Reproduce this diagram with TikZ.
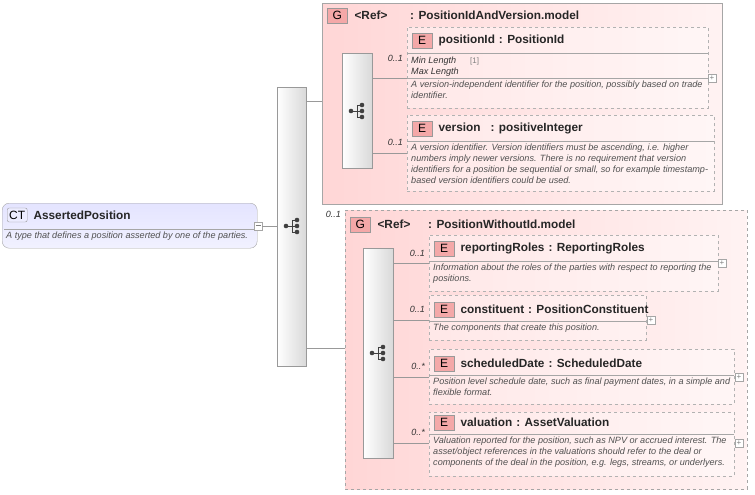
\documentclass[tikz,border=0pt]{standalone}
\usepackage{fontspec}
\setmainfont{Liberation Sans}
\usetikzlibrary{positioning,calc}
\definecolor{grpfill}{HTML}{FFD6D6}
\definecolor{ctfill}{HTML}{E4E4FF}
\definecolor{efill}{HTML}{F4A8A8}
\definecolor{txtgray}{HTML}{505050}
\tikzset{
  grp/.style={draw=gray!70, left color=grpfill, right color=grpfill!30, anchor=north west, inner sep=0pt},
  elem/.style={draw=gray!60, dashed, fill=white, fill opacity=0.35, text opacity=1, anchor=north west, inner sep=0pt},
  seqbar/.style={draw=gray!80, left color=white, right color=gray!30, anchor=north west, inner sep=0pt},
  tag/.style={draw=gray!80, fill=efill, minimum width=20pt, minimum height=15pt, inner sep=0pt, font=\fontsize{12}{12}\selectfont},
  title/.style={anchor=west, inner sep=0pt, font=\bfseries\fontsize{11.8}{14}\selectfont, text=black!85},
  desc/.style={anchor=north west, inner sep=0pt, align=left, text=txtgray, font=\itshape\fontsize{9.1}{10.8}\selectfont},
  card/.style={inner sep=0pt, text=black!80, font=\itshape\fontsize{9}{10}\selectfont},
  plusbox/.style={draw=gray!70, fill=white, minimum size=8pt, inner sep=0pt, font=\fontsize{8}{8}\selectfont, text=gray},
  conn/.style={draw=gray!80, line width=0.5pt}
}
\newcommand{\seqicon}[1]{%
  \draw[black!75, line width=0.8pt] ($(#1)+(-6,0)$) -- ($(#1)+(0,0)$)
    ($(#1)+(0,-6)$) -- ($(#1)+(0,6)$) ($(#1)+(0,-6)$) -- ($(#1)+(4,-6)$)
    ($(#1)+(0,6)$) -- ($(#1)+(4,6)$) ($(#1)+(0,0)$) -- ($(#1)+(4,0)$);
  \fill[black!75] ($(#1)+(-6,0)$) circle[radius=2.3pt] ($(#1)+(5,-6)$) circle[radius=2.3pt]
    ($(#1)+(5,0)$) circle[radius=2.3pt] ($(#1)+(5,6)$) circle[radius=2.3pt];}
\begin{document}
\begin{tikzpicture}[x=1pt, y=-1pt]
\useasboundingbox (0,0) rectangle (755,495);

% complex type
\node[draw=gray!70, rounded corners=7pt, top color=ctfill, bottom color=ctfill!50, minimum width=255pt, minimum height=45pt, anchor=north west, inner sep=0pt] (ct) at (2,203) {};
\node[draw=gray!80, fill=ctfill!70, rounded corners=2pt, minimum width=20pt, minimum height=14pt, inner sep=0pt, font=\fontsize{12}{12}\selectfont, anchor=west] (cttag) at (7,215) {CT};
\node[title, right=6pt of cttag] (ctname) {AssertedPosition};
\draw[gray!70] (4,229) -- (254,229);
\node[desc] (ctdesc) at (6,232) {A type that defines a position asserted by one of the parties.};
\node[plusbox] (ctmin) at (258,226) {\rule[2.5pt]{5pt}{0.4pt}};

% main sequence
\node[seqbar, minimum width=29pt, minimum height=279pt] (seq) at (277,87) {};
\coordinate (seqc) at (292,226);
\seqicon{seqc}
\draw[conn] (ctmin.east) -- (seq.west |- ctmin.east);

% first group
\node[grp, minimum width=400pt, minimum height=201pt] (g1) at (322,3) {};
\node[tag, anchor=north west] (g1tag) at (327,8) {G};
\node[title, right=7pt of g1tag] (g1ref) {<Ref>};
\node[title] (g1name) at (410,15) {: PositionIdAndVersion.model};
\node[seqbar, minimum width=30pt, minimum height=115pt] (seqa) at (342,53) {};
\coordinate (seqac) at (357,111);
\seqicon{seqac}
\draw[conn] (seq.east |- 0,101) -- (g1.west |- 0,101);

\node[elem, minimum width=301pt, minimum height=81pt] (pid) at (407,27) {};
\node[tag, anchor=north west] (pidtag) at (412,33) {E};
\node[title, right=6pt of pidtag] (pidname) {positionId\hspace{4pt}: PositionId};
\draw[gray!70] (407,53) -- (708,53) (407,78) -- (708,78);
\node[desc, text=black!80] (pidmin) at (411,57) {Min Length\\Max Length};
\node[desc, font=\fontsize{8}{10.8}\selectfont, text=gray] (pidval) at (470,57) {[1]\\[255]};
\node[desc] (piddesc) at (411,81) {A version-independent identifier for the position, possibly based on trade\\identifier.};
\node[plusbox] (pidplus) at (712,78) {+};
\node[card, anchor=south east] (c1) at (403,62) {0..1};
\draw[conn] (seqa.east |- pidplus) -- (pid.west |- pidplus);

\node[elem, minimum width=307pt, minimum height=76pt] (ver) at (407,115) {};
\node[tag, anchor=north west] (vertag) at (412,121) {E};
\node[title, right=6pt of vertag] (vername) {version\hspace{10pt}: positiveInteger};
\draw[gray!70] (407,141) -- (714,141);
\node[desc] (verdesc) at (411,144) {A version identifier. Version identifiers must be ascending, i.e. higher\\numbers imply newer versions. There is no requirement that version\\identifiers for a position be sequential or small, so for example timestamp-\\based version identifiers could be used.};
\coordinate (verin) at (407,153);
\node[card, anchor=south east] (c2) at (403,146) {0..1};
\draw[conn] (seqa.east |- verin) -- (verin);

% second group
\node[grp, dashed, minimum width=402pt, minimum height=279pt] (g2) at (345,210) {};
\node[card, anchor=south east] (c0) at (341,218) {0..1};
\node[tag, anchor=north west] (g2tag) at (350,217) {G};
\node[title, right=7pt of g2tag] (g2ref) {<Ref>};
\node[title] (g2name) at (428,224) {: PositionWithoutId.model};
\node[seqbar, minimum width=30pt, minimum height=210pt] (seqb) at (363,248) {};
\coordinate (seqbc) at (378,353);
\seqicon{seqbc}
\draw[conn] (seq.east |- 0,348) -- (g2.west |- 0,348);

\node[elem, minimum width=289pt, minimum height=56pt] (rr) at (429,235) {};
\node[tag, anchor=north west] (rrtag) at (434,241) {E};
\node[title, right=6pt of rrtag] (rrname) {reportingRoles\hspace{4pt}: ReportingRoles};
\draw[gray!70] (429,261) -- (718,261);
\node[desc] (rrdesc) at (433,264) {Information about the roles of the parties with respect to reporting the\\positions.};
\node[plusbox] (rrplus) at (722,263) {+};
\node[card, anchor=south east] (c3) at (425,257) {0..1};
\draw[conn] (seqb.east |- rrplus) -- (rr.west |- rrplus);

\node[elem, minimum width=217pt, minimum height=45pt] (con) at (429,295) {};
\node[tag, anchor=north west] (contag) at (434,302) {E};
\node[title, right=6pt of contag] (conname) {constituent\hspace{4pt}: PositionConstituent};
\draw[gray!70] (429,321) -- (646,321);
\node[desc] (condesc) at (433,324) {The components that create this position.};
\node[plusbox] (conplus) at (651,320) {+};
\node[card, anchor=south east] (c4) at (425,313) {0..1};
\draw[conn] (seqb.east |- conplus) -- (con.west |- conplus);

\node[elem, minimum width=305pt, minimum height=55pt] (sd) at (429,349) {};
\node[tag, anchor=north west] (sdtag) at (434,356) {E};
\node[title, right=6pt of sdtag] (sdname) {scheduledDate\hspace{4pt}: ScheduledDate};
\draw[gray!70] (429,375) -- (734,375);
\node[desc] (sddesc) at (433,378) {Position level schedule date, such as final payment dates, in a simple and\\flexible format.};
\node[plusbox] (sdplus) at (739,377) {+};
\node[card, anchor=south east] (c5) at (425,370) {0..*};
\draw[conn] (seqb.east |- sdplus) -- (sd.west |- sdplus);

\node[elem, minimum width=305pt, minimum height=64pt] (val) at (429,412) {};
\node[tag, anchor=north west] (valtag) at (434,415) {E};
\node[title, right=6pt of valtag] (valname) {valuation\hspace{4pt}: AssetValuation};
\draw[gray!70] (429,434) -- (734,434);
\node[desc] (valdesc) at (433,437) {Valuation reported for the position, such as NPV or accrued interest. The\\asset/object references in the valuations should refer to the deal or\\components of the deal in the position, e.g. legs, streams, or underlyers.};
\node[plusbox] (valplus) at (739,443) {+};
\node[card, anchor=south east] (c6) at (425,436) {0..*};
\draw[conn] (seqb.east |- valplus) -- (val.west |- valplus);
\end{tikzpicture}
\end{document}
